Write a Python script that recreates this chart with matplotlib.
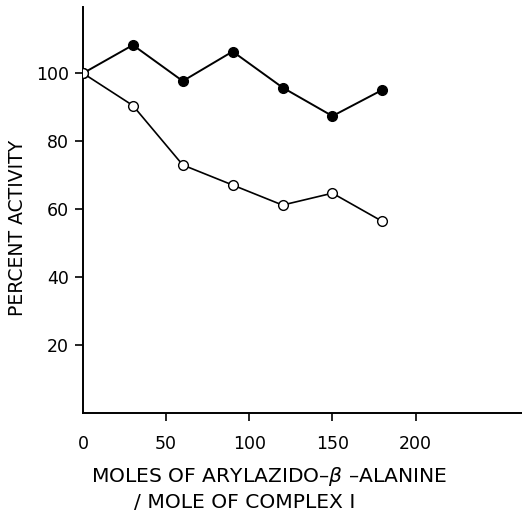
import matplotlib
matplotlib.use("Agg")
import matplotlib.pyplot as plt

plt.rcParams['font.family'] = ['DejaVu Sans']
plt.rcParams['mathtext.fontset'] = 'dejavusans'

x_filled = [0, 30, 60, 90, 120, 150, 180]
y_filled = [100, 108.3, 97.7, 106.4, 95.8, 87.4, 95.1]
x_open = [0, 30, 60, 90, 120, 150, 180]
y_open = [100, 90.5, 73.0, 67.1, 61.2, 64.7, 56.4]

xticks = [0, 50, 100, 150, 200]
xticklabels = ['0', '50', '100', '150', '200']
yticks = [20, 40, 60, 80, 100]
yticklabels = ['20', '40', '60', '80', '100']

fig = plt.figure(figsize=(5.22, 5.15), dpi=100)
ax = fig.add_axes([83/522, (515-413)/515, 1 - 83/522, (413-7)/515])

ax.plot(x_filled, y_filled, '-o', color='black', lw=1.4, ms=7,
        mfc='black', mec='black', zorder=3)
ax.plot(x_open, y_open, '-o', color='black', lw=1.2, ms=7,
        mfc='white', mec='black', mew=1.0, zorder=4)

ax.set_xlim(0, 264)
ax.set_ylim(0, 119.5)
ax.set_xticks(xticks[1:])
ax.set_xticklabels(xticklabels[1:])
ax.set_yticks(yticks)
ax.set_yticklabels(yticklabels)
ax.tick_params(axis='both', direction='out', length=6, width=1.2,
               labelsize=12.5, pad=4, colors='black')
ax.tick_params(axis='x', pad=10)
# zero label on x axis without tick, aligned with the other tick labels
ax.annotate(xticklabels[0], xy=(xticks[0], 0), xycoords='data',
            xytext=(0, -16), textcoords='offset points',
            ha='center', va='top', fontsize=12.5, annotation_clip=False)

for s in ['top', 'right']:
    ax.spines[s].set_visible(False)
for s in ['left', 'bottom']:
    ax.spines[s].set_linewidth(1.4)

fig.text(18/522, 1 - 228/515, 'PERCENT ACTIVITY', rotation=90,
         ha='center', va='center', fontsize=13.5)
fig.text(269/522, 1 - 477/515, 'MOLES OF ARYLAZIDO\u2013$\\it{\\beta}$ \u2013ALANINE',
         ha='center', va='center', fontsize=14.6)
fig.text(245/522, 1 - 503/515, '/ MOLE OF COMPLEX I',
         ha='center', va='center', fontsize=14.6)

fig.savefig('out.png', dpi=100)
